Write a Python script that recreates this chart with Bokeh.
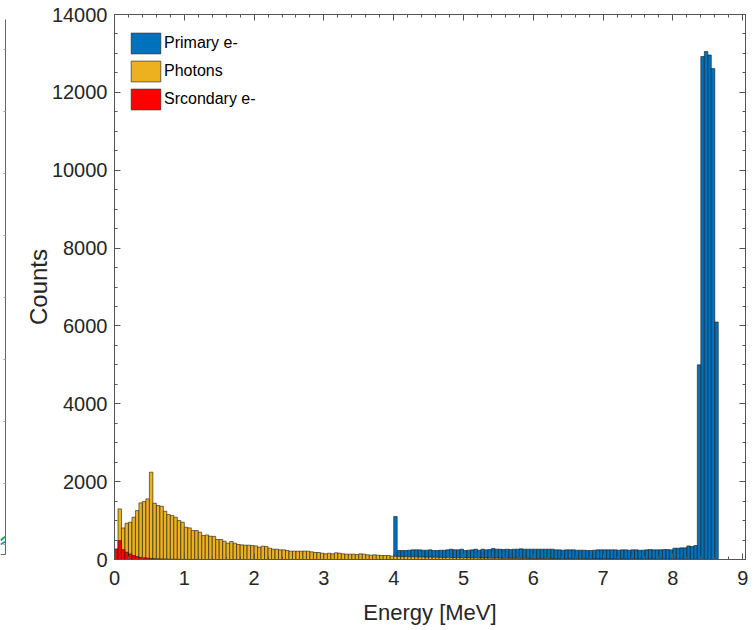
from bokeh.plotting import figure
from bokeh.models import (LinearAxis, Range1d, Legend, LegendItem,
                          ColumnDataSource, SingleIntervalTicker)
from bokeh.layouts import row
from bokeh.embed import file_html
from bokeh.resources import INLINE

# ---- histogram data (bin width 0.05 MeV, bins start at 0 MeV) ----
BIN_WIDTH = 0.05

photon_counts = [
    240, 1300, 811, 931, 957, 1086, 1257, 1454, 1488, 1557,
    2243, 1444, 1385, 1368, 1239, 1154, 1128, 1086, 1000, 957,
    829, 812, 744, 744, 701, 615, 632, 598, 595, 513,
    513, 470, 419, 462, 419, 385, 376, 368, 368, 359,
    350, 316, 342, 333, 291, 265, 265, 248, 248, 231,
    214, 214, 214, 214, 214, 214, 197, 180, 180, 162,
    145, 162, 145, 171, 162, 145, 137, 137, 137, 128,
    145, 137, 120, 111, 120, 111, 103, 103, 103, 85,
    85, 80, 75, 78, 70, 72, 68, 65, 66, 60,
    62, 58, 60, 55, 52, 55, 50, 48, 50, 45,
    47, 44, 42, 44, 40, 38, 40, 36, 35, 37,
    34, 32, 33, 30, 31, 29, 28, 30, 27, 26,
    25, 27, 24, 23, 25, 22, 21, 22, 20, 19,
    21, 18, 19, 17, 18, 16, 17, 15, 16, 15,
    14, 15, 13, 14, 12, 13, 12, 11, 12, 10,
    11, 10, 9, 10, 9, 8, 9, 8, 7, 8,
    7, 6, 7, 6, 5, 5, 4, 4, 3, 3,
    2, 2, 1,
]

PRIMARY_FIRST_BIN = 80  # primary electrons start at 4.0 MeV
primary_counts = [
    1103,
    231, 231, 231, 239, 248, 248, 248, 239, 239, 248,
    231, 231, 239, 239, 248, 265, 248, 248, 265, 231,
    239, 248, 265, 239, 265, 248, 256, 282, 265, 265,
    256, 265, 256, 265, 265, 274, 265, 265, 265, 265,
    265, 265, 265, 265, 265,
    248, 248, 239, 248, 248, 248, 239, 239, 239, 231,
    231, 239, 248, 248, 248, 248, 248, 248, 239, 248,
    248, 239, 248, 248, 239, 239, 248, 256, 248, 248,
    248, 256, 256, 248,
    290, 290, 299, 299, 350, 333, 359,
    5000, 12920, 13050, 12960, 12610, 6100,
]

secondary_counts = [
    271, 485, 254, 186, 143, 100, 75, 55, 45, 35,
    28, 22, 18, 15, 12, 10, 8, 6, 5, 4,
    3, 2, 2, 1, 1,
]

series_names = ["Primary e-", "Photons", "Srcondary e-"]
series_colors = ["#0072BD", "#EDB120", "#FF0000"]

x_ticks_major = 1
y_ticks_major = 2000

FONT = "Liberation Sans"
AXIS_GRAY = "#555555"
TEXT_COLOR = "#262626"


def hist_source(counts, first_bin=0):
    left = [(first_bin + i) * BIN_WIDTH for i in range(len(counts))]
    right = [(first_bin + i + 1) * BIN_WIDTH for i in range(len(counts))]
    return ColumnDataSource(dict(left=left, right=right, top=counts,
                                 bottom=[0] * len(counts)))


# ---- sliver of the neighbouring panel on the left ----
left_panel = figure(frame_width=9, frame_height=630, output_backend="svg",
                    toolbar_location=None, x_range=Range1d(0, 9),
                    y_range=Range1d(0, 630),
                    min_border_left=0, min_border_right=0,
                    min_border_top=0, min_border_bottom=0)
left_panel.axis.visible = False
left_panel.grid.visible = False
left_panel.outline_line_color = None
edge_x = [5, 5]
edge_y = [625, 90]
left_panel.line(edge_x, edge_y, line_color="#666666", line_width=1)
left_panel.line([0, 5], [90, 90], line_color="#666666", line_width=1)
tick_y = [100, 161, 223, 285, 347, 409, 471, 533, 595]
left_panel.segment(x0=[3] * len(tick_y), x1=[5] * len(tick_y), y0=tick_y,
                   y1=tick_y, line_color="#999999", line_width=1)
left_panel.line([0, 5], [104, 108], line_color="#2ca25f", line_width=2)
left_panel.line([0, 5], [100, 103], line_color="#3182bd", line_width=1.5)

# ---- main histogram ----
p = figure(width=746, height=630, output_backend="svg", toolbar_location=None,
           x_range=Range1d(0, 9.04), y_range=Range1d(0, 14000),
           min_border_left=105, min_border_right=10,
           min_border_top=14, min_border_bottom=71)
p.grid.visible = False
p.outline_line_color = AXIS_GRAY
p.outline_line_width = 1
p.background_fill_color = "white"
p.border_fill_color = "white"

r_primary = p.quad(left="left", right="right", top="top", bottom="bottom",
                   source=hist_source(primary_counts, PRIMARY_FIRST_BIN),
                   fill_color=series_colors[0], line_color="#1a1a1a",
                   line_width=0.6)
r_photons = p.quad(left="left", right="right", top="top", bottom="bottom",
                   source=hist_source(photon_counts),
                   fill_color=series_colors[1], line_color="#1a1a1a",
                   line_width=0.6)
r_secondary = p.quad(left="left", right="right", top="top", bottom="bottom",
                     source=hist_source(secondary_counts),
                     fill_color=series_colors[2], line_color="#1a1a1a",
                     line_width=0.6)


def style_axis(ax, show_labels):
    ax.axis_line_color = AXIS_GRAY
    ax.major_tick_line_color = AXIS_GRAY
    ax.minor_tick_line_color = AXIS_GRAY
    ax.major_tick_in = 6
    ax.major_tick_out = 0
    ax.minor_tick_in = 3
    ax.minor_tick_out = 0
    ax.major_label_text_font = FONT
    if show_labels:
        ax.major_label_text_color = TEXT_COLOR
        ax.major_label_text_font_size = "20px"
        ax.major_label_standoff = 9
    else:
        # tick marks only on the mirrored sides of the box
        ax.major_label_text_color = None
        ax.major_label_text_font_size = "1px"
        ax.major_label_standoff = 0


x_ticker = SingleIntervalTicker(interval=x_ticks_major, num_minor_ticks=5)
y_ticker = SingleIntervalTicker(interval=y_ticks_major, num_minor_ticks=4)

p.xaxis.ticker = x_ticker
p.yaxis.ticker = y_ticker
style_axis(p.xaxis[0], True)
style_axis(p.yaxis[0], True)
p.yaxis.major_label_standoff = 7
p.xaxis.major_label_standoff = 11

p.xaxis.axis_label = "Energy [MeV]"
p.yaxis.axis_label = "Counts"
for ax in (p.xaxis[0], p.yaxis[0]):
    ax.axis_label_text_font = FONT
    ax.axis_label_text_font_style = "normal"
    ax.axis_label_text_color = TEXT_COLOR
p.xaxis.axis_label_text_font_size = "22px"
p.yaxis.axis_label_text_font_size = "24px"
p.xaxis.axis_label_standoff = 12
p.yaxis.axis_label_standoff = -3

top_axis = LinearAxis(ticker=SingleIntervalTicker(interval=x_ticks_major,
                                                  num_minor_ticks=5))
right_axis = LinearAxis(ticker=SingleIntervalTicker(interval=y_ticks_major,
                                                    num_minor_ticks=4))
style_axis(top_axis, False)
style_axis(right_axis, False)
p.add_layout(top_axis, "above")
p.add_layout(right_axis, "right")

legend = Legend(items=[
    LegendItem(label=series_names[0], renderers=[r_primary]),
    LegendItem(label=series_names[1], renderers=[r_photons]),
    LegendItem(label=series_names[2], renderers=[r_secondary]),
], location="top_left")
legend.border_line_color = None
legend.background_fill_alpha = 0
legend.label_text_font = FONT
legend.label_text_font_size = "16px"
legend.label_text_color = "black"
legend.glyph_width = 37
legend.glyph_height = 26
legend.label_standoff = 0
legend.spacing = 2
legend.padding = 6
legend.margin = 0
legend.location = (13, 447)
p.add_layout(legend)

layout = row(left_panel, p, spacing=0)
open("out.html", "w").write(file_html(layout, INLINE))
